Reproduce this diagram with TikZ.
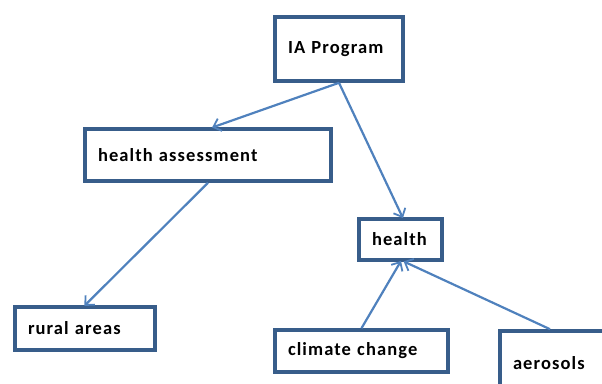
\documentclass[tikz,border=0pt]{standalone}
\usepackage{fontspec}
\setmainfont{Carlito}[LetterSpace=6]
\usetikzlibrary{arrows.meta}
\definecolor{boxblue}{RGB}{56,93,138}
\definecolor{linkblue}{RGB}{79,129,189}
\tikzset{
  box/.style={draw=boxblue, line width=3.6pt, fill=white, inner xsep=13pt,
    inner ysep=0pt, align=left, font=\fontsize{18.5}{22}\selectfont\bfseries},
  link/.style={draw=linkblue, line width=2.2pt,
    -{Straight Barb[length=7pt,width=13pt,line width=1.8pt]}, shorten >=-1pt}
}
\begin{document}
\begin{tikzpicture}[x=1pt,y=-1pt]
\useasboundingbox (0,0) rectangle (602,383);
\clip (0,0) rectangle (602,383);
\node[box, text width=102pt, minimum height=64pt] (ia)  at (339,49)    {IA Program};
\node[box, text width=220pt, minimum height=52pt] (ha)  at (208,155)   {health assessment};
\node[box, text width=114pt, minimum height=43pt] (ra)  at (85,328.5)  {rural areas};
\node[box, text width=57pt,  minimum height=41pt] (h)   at (400.5,239.5) {health};
\node[box, text width=147pt, minimum height=42pt] (cc)  at (361.5,351) {climate change};
\node[box, text width=94pt,  minimum height=64pt] (aer) at (560,363)   {aerosols};

\draw[link] (ia.south) -- ([xshift=5pt]ha.north);
\draw[link] (ia.south) -- ([xshift=2pt]h.north);
\draw[link] (ha.south) -- (ra.north);
\draw[link] (cc.north) -- (h.south);
\draw[link] ([xshift=-10pt]aer.north) -- ([xshift=4pt]h.south);
\end{tikzpicture}
\end{document}
